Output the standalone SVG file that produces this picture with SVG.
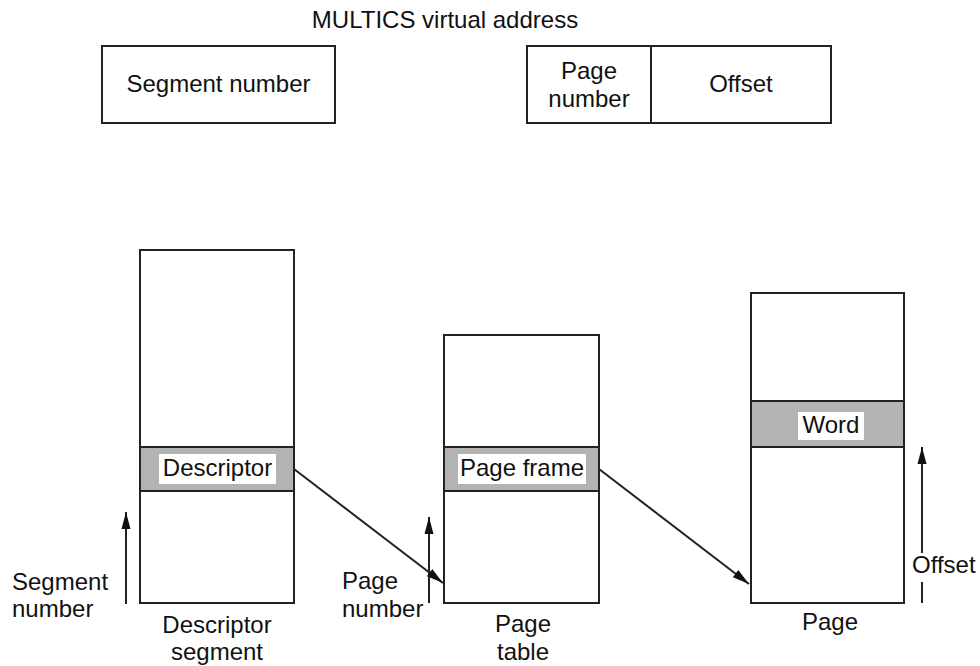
<svg xmlns="http://www.w3.org/2000/svg" width="980" height="666" viewBox="0 0 980 666">
<style>
text{font-family:"Liberation Sans",Arial,sans-serif;font-size:24px;fill:#111}
.c{text-anchor:middle}
.box{fill:#fff;stroke:#222;stroke-width:2}
.band{fill:#b3b3b3;stroke:#222;stroke-width:2}
.lbl{fill:#fff;stroke:none}
.ln{stroke:#222;stroke-width:2;fill:none}
</style>
<defs>
<marker id="ah" markerUnits="userSpaceOnUse" markerWidth="18" markerHeight="10" refX="17" refY="5" orient="auto">
<path d="M0,0.5 L17,5 L0,9.5 z" fill="#111"/>
</marker>
</defs>
<rect width="980" height="666" fill="#fff"/>

<g id="title"><text class="c" x="445" y="28">MULTICS virtual address</text></g>

<g id="va-segment">
<rect class="box" x="102" y="46" width="233" height="77"/>
<text class="c" x="218.5" y="92">Segment number</text>
</g>
<g id="va-page">
<rect class="box" x="527" y="46" width="304" height="77"/>
<line class="ln" x1="651" y1="46" x2="651" y2="123"/>
<text class="c" x="589" y="79">Page</text>
<text class="c" x="589" y="107">number</text>
<text class="c" x="741" y="92">Offset</text>
</g>

<g id="descriptor-segment">
<rect class="box" x="140" y="250" width="154" height="353"/>
<rect class="band" x="140" y="447" width="154" height="44"/>
<rect class="lbl" x="159" y="454" width="117" height="30"/>
<text class="c" x="217.5" y="476">Descriptor</text>
<text class="c" x="217" y="633">Descriptor</text>
<text class="c" x="217" y="660">segment</text>
</g>

<g id="page-table">
<rect class="box" x="444" y="335" width="155" height="268"/>
<rect class="band" x="444" y="447" width="155" height="44"/>
<rect class="lbl" x="458" y="454" width="128" height="30"/>
<text class="c" x="522" y="476">Page frame</text>
<text class="c" x="523" y="632">Page</text>
<text class="c" x="523" y="660">table</text>
</g>

<g id="page">
<rect class="box" x="751" y="293" width="153" height="310"/>
<rect class="band" x="751" y="401" width="153" height="46"/>
<rect class="lbl" x="798" y="412" width="66" height="28"/>
<text class="c" x="831" y="433">Word</text>
<text class="c" x="830" y="630">Page</text>
</g>

<g id="labels">
<text x="12" y="590">Segment</text>
<text x="12" y="617">number</text>
<text x="342" y="589">Page</text>
<text x="342" y="617">number</text>
<text x="912" y="573">Offset</text>
</g>

<g id="connectors">
<line class="ln" x1="126" y1="604" x2="126" y2="512" marker-end="url(#ah)"/>
<line class="ln" x1="429" y1="603" x2="429" y2="517" marker-end="url(#ah)"/>
<line class="ln" x1="922" y1="603" x2="922" y2="582"/>
<line class="ln" x1="922" y1="553" x2="922" y2="447" marker-end="url(#ah)"/>
<line class="ln" x1="294" y1="469" x2="443" y2="583" marker-end="url(#ah)"/>
<line class="ln" x1="599" y1="469" x2="749" y2="584" marker-end="url(#ah)"/>
</g>
</svg>
